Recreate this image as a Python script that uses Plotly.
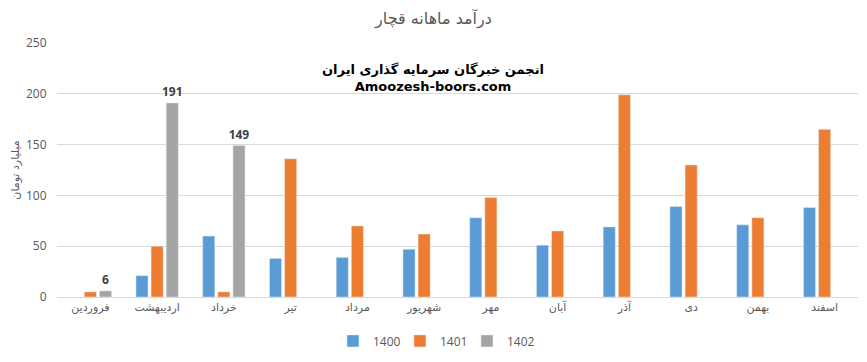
import plotly.graph_objects as go

months = ["فروردین", "اردیبهشت", "خرداد", "تیر", "مرداد", "شهریور",
          "مهر", "آبان", "آذر", "دی", "بهمن", "اسفند"]
y1400 = [None, 21, 60, 38, 39, 47, 78, 51, 69, 89, 71, 88]
y1401 = [5, 50, 5, 136, 70, 62, 98, 65, 199, 130, 78, 165]
y1402 = [6, 191, 149, None, None, None, None, None, None, None, None, None]

FONT = "Open Sans, DejaVu Sans, sans-serif"
GRAY = "#595959"

fig = go.Figure()
fig.add_bar(name="1400", x=months, y=y1400, marker_color="#5B9BD5")
fig.add_bar(name="1401", x=months, y=y1401, marker_color="#ED7D31")
fig.add_bar(name="1402", x=months, y=y1402, marker_color="#A5A5A5",
            text=[f"{v:.0f}" if v is not None else "" for v in y1402],
            textposition="outside", cliponaxis=False, constraintext="none",
            textfont=dict(family=FONT, size=12, color="#404040", weight="bold"))

fig.update_layout(
    width=867, height=362,
    margin=dict(l=57, r=9, t=43, b=65, autoexpand=False),
    paper_bgcolor="white", plot_bgcolor="white",
    barmode="group", bargap=0.32, bargroupgap=0.2,
    font=dict(family=FONT, size=12, color=GRAY),
    title=dict(text="درآمد ماهانه قچار", x=0.5, xanchor="center",
               y=1 - 18 / 362, yanchor="middle",
               font=dict(family="DejaVu Sans, sans-serif", size=16, color=GRAY)),
    legend=dict(orientation="h", x=0.47, xanchor="center", y=-0.173, yanchor="middle",
                font=dict(size=12, color=GRAY), itemwidth=30, traceorder="normal",
                entrywidth=22, entrywidthmode="pixels"),
    showlegend=True,
)
fig.update_xaxes(showgrid=False, showline=True, linecolor="#D9D9D9", linewidth=1,
                 ticks="", tickfont=dict(family="DejaVu Sans, sans-serif", size=11, color=GRAY),
                 tickangle=0)
fig.update_yaxes(range=[0, 250], dtick=50, showgrid=True, gridcolor="#D9D9D9",
                 zeroline=False, showline=False, ticks="outside", ticklen=7,
                 tickcolor="white",
                 tickfont=dict(size=12, color=GRAY),
                 title=dict(text="میلیارد تومان", standoff=4,
                            font=dict(family="DejaVu Sans, sans-serif", size=11, color=GRAY)))

fig.add_annotation(text="<b>انجمن خبرگان سرمایه گذاری ایران</b><br><b>Amoozesh-boors.com</b>",
                   xref="paper", yref="paper", x=0.47, y=(297 - 78) / 254,
                   xanchor="center", yanchor="middle", showarrow=False,
                   font=dict(family="DejaVu Sans, sans-serif", size=13, color="black"))

fig.write_html("out.html", config={"displayModeBar": False},
               post_script="document.body.style.margin='0';")
